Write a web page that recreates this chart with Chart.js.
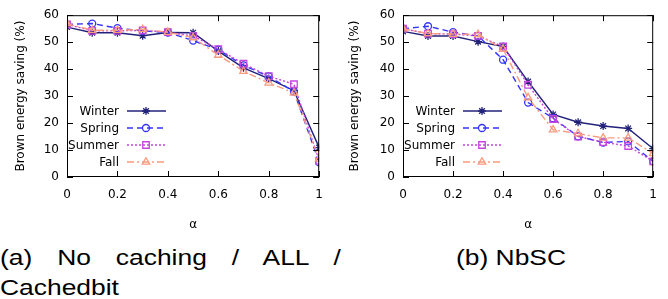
<!DOCTYPE html>
<html><head><meta charset="utf-8">
<script src="https://cdn.jsdelivr.net/npm/chart.js@4/dist/chart.umd.min.js"></script>
<style>
html,body{margin:0;padding:0;background:#fff;width:668px;height:299px;overflow:hidden;}
.wrap{position:absolute;top:0;width:334px;height:236px;}
.cap{position:absolute;font-family:"Liberation Sans",Arial,sans-serif;font-size:22px;line-height:30px;color:#000;transform:scaleX(1.2);transform-origin:0 0;}
</style></head><body>
<div class="wrap" style="left:0"><canvas id="c1"></canvas></div>
<div class="wrap" style="left:334px"><canvas id="c2"></canvas></div>
<div class="cap" style="left:0;top:243px;width:284px;text-align:justify;">(a) No caching / ALL / Cachedbit</div>
<div class="cap" style="left:456px;top:243px;white-space:nowrap;">(b) NbSC</div>
<script>
// ---- data ----
const alphas = [0, 0.1, 0.2, 0.3, 0.4, 0.5, 0.6, 0.7, 0.8, 0.9, 1];
const xTickValues = [0, 0.2, 0.4, 0.6, 0.8, 1];
const xTickLabels = ['0', '0.2', '0.4', '0.6', '0.8', '1'];
const yTickValues = [0, 10, 20, 30, 40, 50, 60];
const yTickLabels = ['0', '10', '20', '30', '40', '50', '60'];
const seriesNames = ['Winter', 'Spring', 'Summer', 'Fall'];

// (a) No caching / ALL / Cachedbit
const aWinter = [55.6, 53.5, 53.5, 52.4, 53.6, 53.5, 46.7, 40.5, 36.5, 32.0, 10.9];
const aSpring = [56.6, 56.9, 55.2, 54.2, 53.6, 50.6, 47.2, 41.4, 37.3, 31.7, 5.4];
const aSummer = [56.6, 54.2, 54.2, 54.4, 53.7, 52.3, 47.4, 42.0, 37.4, 34.4, 6.0];
const aFall   = [56.9, 54.4, 54.4, 54.7, 53.7, 51.7, 45.2, 39.2, 34.9, 31.2, 6.7];

// (b) NbSC
const bWinter = [54.0, 52.3, 52.3, 50.2, 48.4, 35.4, 23.2, 20.3, 18.9, 18.0, 10.5];
const bSpring = [55.0, 55.9, 53.7, 52.3, 43.5, 27.6, 21.8, 15.1, 12.8, 13.2, 5.8];
const bSummer = [55.0, 53.2, 53.0, 52.3, 48.4, 34.2, 21.5, 15.0, 12.9, 11.5, 5.8];
const bFall   = [55.0, 53.2, 53.0, 52.9, 47.4, 29.4, 17.5, 16.1, 14.5, 14.5, 8.7];

// ---- styles ----
const seriesStyles = [
  {color: '#22227a', dash: [], point: 'star', radius: 4},
  {color: '#3434ff', dash: [6, 4], point: 'circle', radius: 3.5},
  {color: '#c444dc', dash: [2, 2], point: 'rect', radius: 4.6},
  {color: '#fa9a7e', dash: [7, 3, 2, 3], point: 'triangle', radius: 4.3}
];
const FONT = {family: '"DejaVu Sans", sans-serif', size: 12};

function drawMarker(ctx, style, x, y) {
  if (Chart.helpers && Chart.helpers.drawPoint) {
    Chart.helpers.drawPoint(ctx, {pointStyle: style.point, rotation: 0, radius: style.radius, borderWidth: 1.3}, x, y);
  }
}

const framePlugin = {
  id: 'frame',
  afterDatasetsDraw(chart) {
    const {ctx, chartArea: a, scales} = chart;
    ctx.save();
    ctx.strokeStyle = '#000';
    ctx.lineWidth = 1;
    ctx.setLineDash([]);
    ctx.strokeRect(a.left + 0.5, a.top + 0.5, a.right - a.left - 1, a.bottom - a.top - 1);
    ctx.beginPath();
    scales.y.ticks.forEach(t => {
      const py = Math.round(scales.y.getPixelForValue(t.value)) + 0.5;
      ctx.moveTo(a.left, py); ctx.lineTo(a.left + 6, py);
      ctx.moveTo(a.right, py); ctx.lineTo(a.right - 6, py);
    });
    scales.x.ticks.forEach(t => {
      const px = Math.round(scales.x.getPixelForValue(t.value)) + 0.5;
      ctx.moveTo(px, a.bottom); ctx.lineTo(px, a.bottom - 6);
      ctx.moveTo(px, a.top); ctx.lineTo(px, a.top + 6);
    });
    ctx.stroke();

    // legend (gnuplot style: text, then line sample with marker)
    const rowOffsets = [-66, -49, -32, -15];
    ctx.font = '12px "DejaVu Sans", sans-serif';
    ctx.textAlign = 'right';
    ctx.textBaseline = 'middle';
    chart.data.datasets.forEach((ds, i) => {
      const st = seriesStyles[i];
      const y = a.bottom + rowOffsets[i];
      ctx.fillStyle = '#000';
      ctx.fillText(ds.label, a.left + 52, y + 1);
      ctx.strokeStyle = st.color;
      ctx.lineWidth = 1.5;
      ctx.setLineDash(st.dash);
      ctx.beginPath();
      ctx.moveTo(a.left + 60, y); ctx.lineTo(a.left + 99, y);
      ctx.stroke();
      ctx.setLineDash([]);
      ctx.fillStyle = 'rgba(0,0,0,0)';
      ctx.lineWidth = 1.3;
      drawMarker(ctx, st, a.left + 79, y);
    });
    ctx.restore();
  }
};

function makeChart(id, series, yWidth) {
  return new Chart(document.getElementById(id), {
    type: 'line',
    data: {
      datasets: seriesNames.map((name, i) => ({
        label: name,
        data: alphas.map((a, j) => ({x: a, y: series[i][j]})),
        borderColor: seriesStyles[i].color,
        backgroundColor: 'rgba(0,0,0,0)',
        borderWidth: 1.4,
        borderDash: seriesStyles[i].dash,
        pointStyle: seriesStyles[i].point,
        pointRadius: seriesStyles[i].radius,
        pointBorderWidth: 1.3,
        pointBorderColor: seriesStyles[i].color,
        pointBackgroundColor: 'rgba(0,0,0,0)',
        fill: false,
        tension: 0,
        order: 4 - i
      }))
    },
    options: {
      responsive: true,
      maintainAspectRatio: false,
      animation: false,
      devicePixelRatio: 1,
      layout: {padding: {left: 0, right: 12, top: 11, bottom: 0}},
      plugins: {legend: {display: false}, tooltip: {enabled: false}},
      scales: {
        x: {
          type: 'linear', min: 0, max: 1,
          afterBuildTicks: s => { s.ticks = xTickValues.map(v => ({value: v})); },
          ticks: {callback: (v, i) => xTickLabels[i], color: '#000', font: FONT, padding: 11, maxRotation: 0, autoSkip: false},
          grid: {display: false, drawTicks: false},
          border: {display: false},
          title: {display: true, text: 'α', color: '#000', font: FONT, padding: {top: 0, bottom: 4}},
          afterFit: s => { s.height = 59; }
        },
        y: {
          type: 'linear', min: 0, max: 60,
          afterBuildTicks: s => { s.ticks = yTickValues.map(v => ({value: v})); },
          ticks: {callback: (v, i) => yTickLabels[i], color: '#000', font: FONT, padding: 8, autoSkip: false},
          grid: {display: false, drawTicks: false},
          border: {display: false},
          title: {display: true, text: 'Brown energy saving (%)', color: '#000', font: FONT, padding: {top: 14, bottom: 0}},
          afterFit: s => { s.width = yWidth; }
        }
      }
    },
    plugins: [framePlugin]
  });
}

makeChart('c1', [aWinter, aSpring, aSummer, aFall], 67);
makeChart('c2', [bWinter, bSpring, bSummer, bFall], 69);
</script>
</body></html>
